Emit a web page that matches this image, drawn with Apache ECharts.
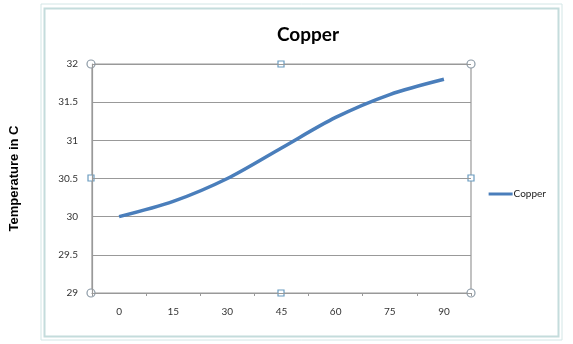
<!DOCTYPE html>
<html><head><meta charset="utf-8">
<script src="https://cdn.jsdelivr.net/npm/echarts@6/dist/echarts.min.js"></script>
<style>html,body{margin:0;padding:0;background:#fff}#c{width:573px;height:344px}</style>
</head><body><div id="c"></div>
<script>
const categories = ['0','15','30','45','60','75','90'];
const copperValues = [30.0, 30.2, 30.5, 30.9, 31.3, 31.6, 31.8];
const seriesName = 'Copper';
const yTitle = 'Temperature in C';

const chart = echarts.init(document.getElementById('c'));
const handleStyle = {fill:'#fff', stroke:'#8c9aa6', lineWidth:1.2};
const sqStyle = {fill:'#fff', stroke:'#6a9cc0', lineWidth:1.2};
chart.setOption({
  animation:false,
  textStyle:{fontFamily:'Lato'},
  title:{text:'Copper', left:303, top:20, textAlign:'center',
    textStyle:{fontSize:19, fontWeight:'bold', color:'#000', fontFamily:'Lato'}},
  legend:{right:22, top:184, itemWidth:24, itemHeight:3, itemGap:4,
    icon:'rect',
    textStyle:{fontSize:10, color:'#222', fontFamily:'Lato', padding:[0,0,0,-4]},
    data:[seriesName]},
  grid:{left:91, right:102, top:64, bottom:51, show:true, borderColor:'#999', borderWidth:1.2, backgroundColor:'transparent'},
  xAxis:{type:'category', data:categories, boundaryGap:true,
    axisLine:{lineStyle:{color:'#999', width:1.2}},
    axisTick:{show:true, length:3, lineStyle:{color:'#999'}},
    axisLabel:{color:'#333', fontSize:10, margin:14, fontFamily:'Lato'}},
  yAxis:{type:'value', min:29, max:32, interval:0.5,
    name:yTitle, nameLocation:'middle', nameGap:71, nameRotate:90,
    nameTextStyle:{fontSize:13, fontWeight:'bold', color:'#000', fontFamily:'Liberation Sans'},
    axisLine:{show:true, lineStyle:{color:'#999', width:1.2}},
    axisTick:{show:false},
    splitLine:{lineStyle:{color:'#999', width:1.2}},
    axisLabel:{color:'#333', fontSize:10, margin:14, fontFamily:'Lato'}},
  series:[{name:seriesName, type:'line', data:copperValues, smooth:0.3,
    symbol:'none', lineStyle:{color:'#4a7ebb', width:3.5},
    itemStyle:{color:'#4a7ebb'}}],
  graphic:[
    {type:'rect', shape:{x:41,y:4,width:521,height:336}, style:{fill:'none', stroke:'#d3e6e6', lineWidth:1}, silent:true, z:-1},
    {type:'rect', shape:{x:44.5,y:8.5,width:514,height:328}, style:{fill:'none', stroke:'#c4dcdc', lineWidth:2}, silent:true, z:-1},
    {type:'circle', shape:{cx:91,cy:64,r:4}, style:handleStyle},
    {type:'circle', shape:{cx:471,cy:64,r:4}, style:handleStyle},
    {type:'circle', shape:{cx:91,cy:293,r:4}, style:handleStyle},
    {type:'circle', shape:{cx:471,cy:293,r:4}, style:handleStyle},
    {type:'rect', shape:{x:278,y:61,width:6,height:6}, style:sqStyle},
    {type:'rect', shape:{x:278,y:290,width:6,height:6}, style:sqStyle},
    {type:'rect', shape:{x:88,y:175,width:6,height:6}, style:sqStyle},
    {type:'rect', shape:{x:468,y:175,width:6,height:6}, style:sqStyle}
  ]
});
</script></body></html>
